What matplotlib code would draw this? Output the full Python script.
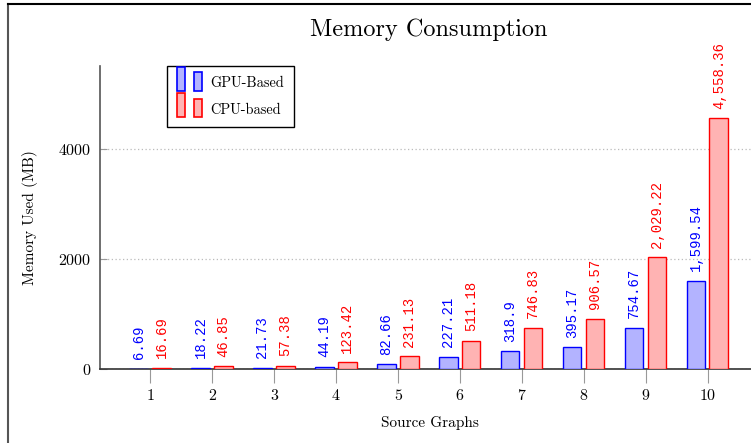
import numpy as np
import matplotlib.pyplot as plt
from matplotlib.legend_handler import HandlerBase
from matplotlib.patches import Rectangle, Patch
from matplotlib.lines import Line2D

# ДАННЫЕ
graphs = [1, 2, 3, 4, 5, 6, 7, 8, 9, 10]
gpu_mb = [6.69, 18.22, 21.73, 44.19, 82.66, 227.21, 318.9, 395.17, 754.67, 1599.54]
cpu_mb = [16.69, 46.85, 57.38, 123.42, 231.13, 511.18, 746.83, 906.57, 2029.22, 4558.36]
y_ticks = [0, 2000, 4000]

blue_edge, blue_face = '#0000ff', '#b3b3ff'
red_edge, red_face = '#ff0000', '#ffb3b3'

plt.rcParams['font.family'] = ['cmr10', 'DejaVu Serif']
plt.rcParams['axes.formatter.use_mathtext'] = True


def fmt(v):
    # 1599.54 -> 1,599.54 ; 318.90 -> 318.9
    return f"{v:,.2f}".rstrip('0').rstrip('.')


# значок легенды: два столбика
class TwoBars(HandlerBase):
    def create_artists(self, legend, orig, xd, yd, w, h, fontsize, trans):
        fc, ec = orig.get_facecolor(), orig.get_edgecolor()
        r1 = Rectangle((xd + 0.0 * w, yd - 0.4 * h), 0.32 * w, 1.9 * h,
                       facecolor=fc, edgecolor=ec, lw=1.2, transform=trans)
        r2 = Rectangle((xd + 0.66 * w, yd - 0.4 * h), 0.32 * w, 1.45 * h,
                       facecolor=fc, edgecolor=ec, lw=1.2, transform=trans)
        return [r1, r2]


fig = plt.figure(figsize=(7.51, 4.43), dpi=100)
ax = fig.add_axes([0.1332, 0.167, 0.875, 0.684])

x = np.array(graphs)
w = 0.3
ax.bar(x - 0.19, gpu_mb, w, facecolor=blue_face, edgecolor=blue_edge, lw=1.0, zorder=3)
ax.bar(x + 0.18, cpu_mb, w, facecolor=red_face, edgecolor=red_edge, lw=1.0, zorder=3)

# подписи над столбиками
for xi, v in zip(x, gpu_mb):
    ax.annotate(fmt(v), (xi - 0.19, v), xytext=(0, 7), textcoords='offset points',
                rotation=90, ha='center', va='bottom', color=blue_edge,
                fontsize=10, family='Liberation Mono')
for xi, v in zip(x, cpu_mb):
    ax.annotate(fmt(v), (xi + 0.18, v), xytext=(0, 7), textcoords='offset points',
                rotation=90, ha='center', va='bottom', color=red_edge,
                fontsize=10, family='Liberation Mono')

ax.set_xlim(0.186, 10.8)
ax.set_ylim(0, 5509)
ax.set_xticks(graphs)
ax.set_yticks(y_ticks)
ax.tick_params(axis='x', direction='out', length=10, color='#999999', labelsize=11.5, pad=4)
ax.tick_params(axis='y', direction='in', length=5, color='#999999', labelsize=11.5, pad=6.5)
ax.yaxis.grid(True, linestyle=(0, (1, 2)), color='#bbbbbb', lw=0.9)
ax.set_axisbelow(True)

for s in ['top', 'right']:
    ax.spines[s].set_visible(False)
ax.spines['left'].set_color('#555555')
ax.spines['bottom'].set_color('#333333')
ax.spines['left'].set_linewidth(1.2)
ax.spines['bottom'].set_linewidth(1.2)

ax.set_xlabel('Source Graphs', fontsize=11, va='center')
ax.xaxis.set_label_coords(0.502, -0.178)
ax.set_ylabel('Memory Used (MB)', fontsize=11, va='center')
ax.yaxis.set_label_coords(-0.1065, 0.5)
fig.text(429 / 751, 1 - 30 / 443, 'Memory Consumption', fontsize=17.5,
         ha='center', va='center')

handles = [Patch(facecolor=blue_face, edgecolor=blue_edge),
           Patch(facecolor=red_face, edgecolor=red_edge)]
leg = ax.legend(handles, ['GPU-Based', 'CPU-based'], handler_map={Patch: TwoBars()},
                loc='upper left', bbox_to_anchor=(0.102, 1.0), borderaxespad=0,
                fontsize=10.3, fancybox=False, edgecolor='black', framealpha=1,
                handlelength=1.75, handleheight=1.0, labelspacing=0.85,
                borderpad=0.7, handletextpad=0.6)
leg.get_frame().set_linewidth(1.0)

# рамка рисунка
fig.add_artist(Line2D([8 / 751, 8 / 751], [0, 1 - 4 / 443], color='#555555', lw=1.5))
fig.add_artist(Line2D([8 / 751, 1], [1 - 4 / 443, 1 - 4 / 443], color='black', lw=1.5))

fig.savefig('out.png', dpi=100)
